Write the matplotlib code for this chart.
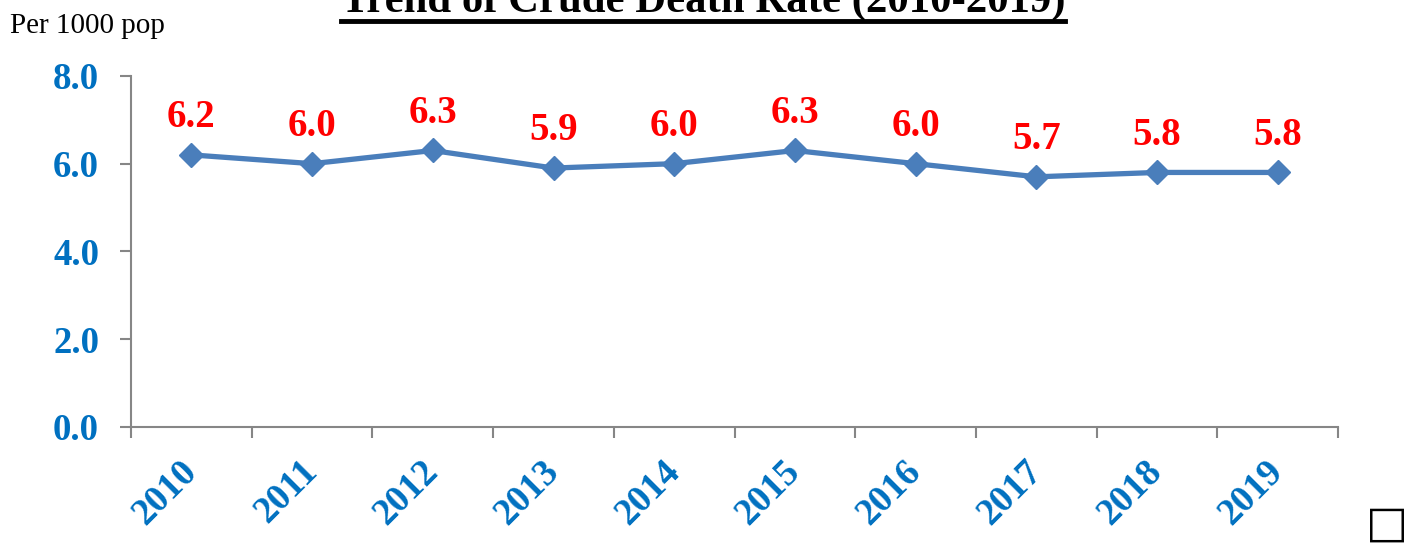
import matplotlib
matplotlib.use('Agg')
import matplotlib.pyplot as plt
from matplotlib.lines import Line2D

years = ['2010', '2011', '2012', '2013', '2014', '2015', '2016', '2017', '2018', '2019']
rates = [6.2, 6.0, 6.3, 5.9, 6.0, 6.3, 6.0, 5.7, 5.8, 5.8]
yticks = [0.0, 2.0, 4.0, 6.0, 8.0]

plt.rcParams['font.family'] = ['Liberation Serif', 'DejaVu Serif']

blue_txt = '#0070C0'
grey = '#868686'

fig = plt.figure(figsize=(14.06, 5.46), dpi=100)
ax = fig.add_axes([0.0932, 0.218, 0.8585, 0.643])

x = list(range(len(years)))
ax.plot(x, rates, color='#4A7EBB', lw=3.8, marker='D', ms=12.5, zorder=3)
for xi, v in zip(x, rates):
    ax.annotate(f'{v:.1f}', (xi, v), xytext=(0, 20), textcoords='offset points',
                ha='center', va='baseline', color='red', fontsize=28, fontweight='bold')

ax.set_xlim(-0.5, len(years) - 0.5)
ax.set_ylim(0, 8)
ax.set_yticks(yticks)
ax.set_yticklabels([f'{t:.1f}' for t in yticks])

# category axis: tick marks between categories, labels at the centres
ax.set_xticks([i - 0.5 for i in range(len(years) + 1)])
ax.set_xticklabels([])
ax.set_xticks(x, minor=True)
ax.set_xticklabels(years, minor=True, rotation=45, ha='right', va='center',
                   rotation_mode='anchor')
ax.tick_params(axis='x', which='minor', length=0, pad=28, labelsize=27, labelcolor=blue_txt)
ax.tick_params(axis='x', which='major', length=8, width=1.5, color=grey)
ax.tick_params(axis='y', length=8, width=1.5, color=grey, pad=15, labelsize=26.5, labelcolor=blue_txt)
for t in ax.get_xticklabels(minor=True) + ax.get_yticklabels():
    t.set_fontweight('bold')

for s in ['top', 'right']:
    ax.spines[s].set_visible(False)
for s in ['left', 'bottom']:
    ax.spines[s].set_color(grey)
    ax.spines[s].set_linewidth(1.5)

fig.text(10 / 1406, 1 - 33 / 546, 'Per 1000 pop', fontsize=21, va='baseline', ha='left')

title = fig.text(0.5, 1 - 12 / 546, 'Trend of Crude Death Rate (2010-2019)',
                 fontsize=30.8, fontweight='bold', ha='center', va='baseline')
# underline the title
r = fig.canvas.get_renderer()
bb = title.get_window_extent(renderer=r)
W, H = fig.bbox.width, fig.bbox.height
uy = 1 - 20.5 / 546
fig.add_artist(Line2D([bb.x0 / W, bb.x1 / W], [uy, uy], transform=fig.transFigure,
                      color='black', lw=3.5))

fig.text(1387 / 1406, 1 - 524 / 546, '\u25a1', family='DejaVu Sans', fontsize=32,
         ha='center', va='center')

fig.savefig('out.png', dpi=100)
